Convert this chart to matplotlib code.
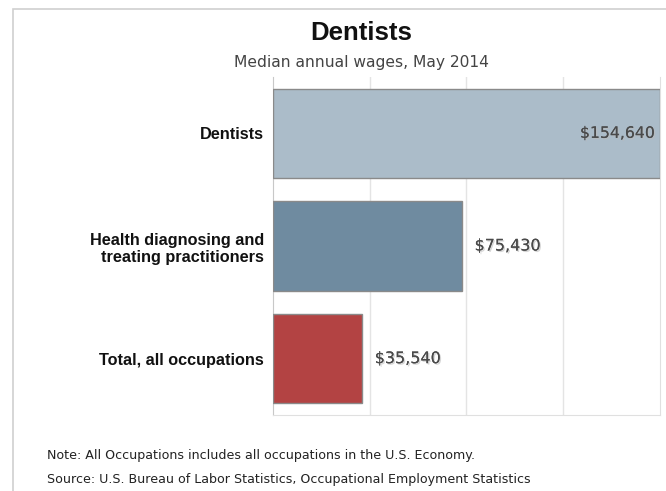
import matplotlib
matplotlib.use("Agg")
import matplotlib.pyplot as plt
import matplotlib.patheffects as pe
from matplotlib.patches import Rectangle

categories = ["Dentists", "Health diagnosing and\ntreating practitioners", "Total, all occupations"]
wages = [154640, 75430, 35540]
value_labels = ["$154,640", "$75,430", "$35,540"]
colors = ["#abbcc9", "#6f8ba0", "#b34343"]
title = "Dentists"
subtitle = "Median annual wages, May 2014"
note = "Note: All Occupations includes all occupations in the U.S. Economy."
source = "Source: U.S. Bureau of Labor Statistics, Occupational Employment Statistics"

W, H = 666, 491
fig = plt.figure(figsize=(W / 100, H / 100), dpi=100)

# outer frame
fig.patches.append(Rectangle((13 / W, -0.1), 1.2, 1 - 9 / H + 0.1, transform=fig.transFigure,
                             fill=False, edgecolor="#d0d0d0", linewidth=1.2))

ax = fig.add_axes([273 / W, 1 - 415 / H, 387 / W, 338 / H])
ypos = list(range(len(categories)))
ax.barh(ypos, wages, height=0.79, color=colors, edgecolor="#8a8a8a", linewidth=1, zorder=3)
ax.set_ylim(len(categories) - 0.5, -0.5)
xmax = wages[0]
ax.set_xlim(0, xmax)
ax.set_xticks([xmax * k / 4 for k in range(1, 4)])
ax.tick_params(axis="x", length=0, labelbottom=False)
ax.grid(axis="x", color="#e4e4e4", linewidth=1, zorder=0)
ax.set_yticks(ypos)
ax.set_yticklabels(categories, fontsize=11.7, fontweight="bold", family="Liberation Sans",
                   linespacing=1.2, color="#111111")
ax.tick_params(axis="y", length=0, pad=6.5)
for s in ["top"]:
    ax.spines[s].set_visible(False)
ax.spines["left"].set_color("#c8c8c8")
ax.spines["bottom"].set_color("#e0e0e0")
ax.spines["right"].set_color("#e0e0e0")

shadow = [pe.withSimplePatchShadow(offset=(1, -1), shadow_rgbFace="#bbbbbb", alpha=0.6), pe.Normal()]
for i, (v, lab) in enumerate(zip(wages, value_labels)):
    if v > xmax * 0.8:
        ax.text(v - xmax * 0.013, i, lab, ha="right", va="center", fontsize=11.3,
                color="#4a4a4a", family="DejaVu Sans", path_effects=shadow, zorder=4)
    else:
        ax.text(v + xmax * 0.033, i, lab, ha="left", va="center", fontsize=11.5,
                color="#4a4a4a", family="DejaVu Sans", path_effects=shadow, zorder=4)

fig.text(361 / W, 1 - 33 / H, title, ha="center", va="center", fontsize=18.5,
         fontweight="bold", family="Liberation Sans", color="#111111")
fig.text(361 / W, 1 - 62 / H, subtitle, ha="center", va="center", fontsize=11.2,
         family="DejaVu Sans", color="#444444")
fig.text(47 / W, 1 - 455 / H, note, ha="left", va="center", fontsize=9.1,
         family="DejaVu Sans", color="#222222")
fig.text(47 / W, 1 - 480 / H, source, ha="left", va="center", fontsize=9.1,
         family="DejaVu Sans", color="#222222")

fig.savefig("out.png", dpi=100)
